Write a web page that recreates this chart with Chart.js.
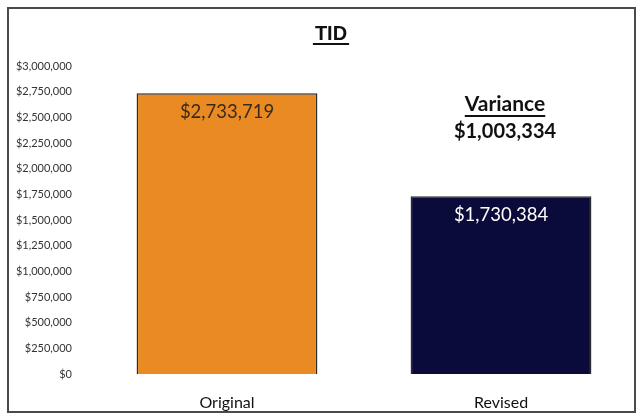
<!DOCTYPE html>
<html>
<head>
<meta charset="UTF-8">
<title>TID</title>
<script src="https://cdn.jsdelivr.net/npm/chart.js"></script>
<style>
html, body { margin: 0; padding: 0; background: #fff; }
#wrap { width: 643px; height: 419px; position: relative; }
</style>
</head>
<body>
<div id="wrap"><canvas id="tid" width="643" height="419"></canvas></div>
<script>
const categories = ["Original", "Revised"];
const amounts = [2733719, 1730384];
const barColors = ["#E98A22", "#0B0B3B"];
const labelColors = ["#3a2a1c", "#ffffff"];
const variance = 1003334;
const yMax = 3000000;
const yStep = 250000;

const money = v => "$" + Math.round(v).toLocaleString("en-US");

// frame, title, value labels and the variance note
const decorations = {
  id: "decorations",
  afterDraw(chart) {
    const ctx = chart.ctx;
    const meta = chart.getDatasetMeta(0);
    ctx.save();

    ctx.strokeStyle = "#4a4a4a";
    ctx.lineWidth = 2;
    ctx.strokeRect(8, 8, 627, 404);

    ctx.textAlign = "center";
    ctx.textBaseline = "middle";

    // title
    ctx.fillStyle = "#111";
    ctx.font = "bold 20px 'Liberation Sans', Arial, sans-serif";
    ctx.fillText("TID", 331, 34);
    let w = ctx.measureText("TID").width;
    ctx.fillRect(331 - w / 2 - 2, 43, w + 4, 2);

    // value labels inside bars
    ctx.font = "18.5px Lato, sans-serif";
    meta.data.forEach((bar, i) => {
      ctx.fillStyle = labelColors[i];
      ctx.fillText(money(amounts[i]), bar.x, bar.y + 19);
    });

    // variance note over the revised bar
    const rx = meta.data[1].x + 4;
    ctx.fillStyle = "#111";
    ctx.font = "bold 21px Lato, sans-serif";
    ctx.fillText("Variance", rx, 104);
    w = ctx.measureText("Variance").width;
    ctx.fillRect(rx - w / 2, 115, w, 2);
    ctx.font = "bold 20px Lato, sans-serif";
    ctx.fillText(money(variance), rx, 132);

    ctx.restore();
  }
};

new Chart(document.getElementById("tid"), {
  type: "bar",
  data: {
    labels: categories,
    datasets: [{
      data: amounts,
      backgroundColor: barColors,
      borderColor: "#2b2b2b",
      borderWidth: 1.5,
      categoryPercentage: 1,
      barPercentage: 0.66
    }]
  },
  options: {
    responsive: false,
    animation: false,
    layout: { padding: { left: 10, right: 5, top: 66, bottom: 0 } },
    plugins: {
      legend: { display: false },
      title: { display: false },
      tooltip: { enabled: false }
    },
    scales: {
      x: {
        grid: { display: false, drawTicks: false },
        border: { display: false },
        ticks: { color: "#111", font: { family: "Lato", size: 16 }, padding: 19 },
        afterFit(scale) { scale.height = 45; }
      },
      y: {
        min: 0,
        max: yMax,
        grid: { display: false, drawTicks: false },
        border: { display: false },
        ticks: {
          stepSize: yStep,
          color: "#333",
          font: { family: "Lato", size: 11 },
          padding: 18,
          callback: v => money(v)
        },
        afterFit(scale) { scale.width = 80; }
      }
    }
  },
  plugins: [decorations]
});
</script>
</body>
</html>
